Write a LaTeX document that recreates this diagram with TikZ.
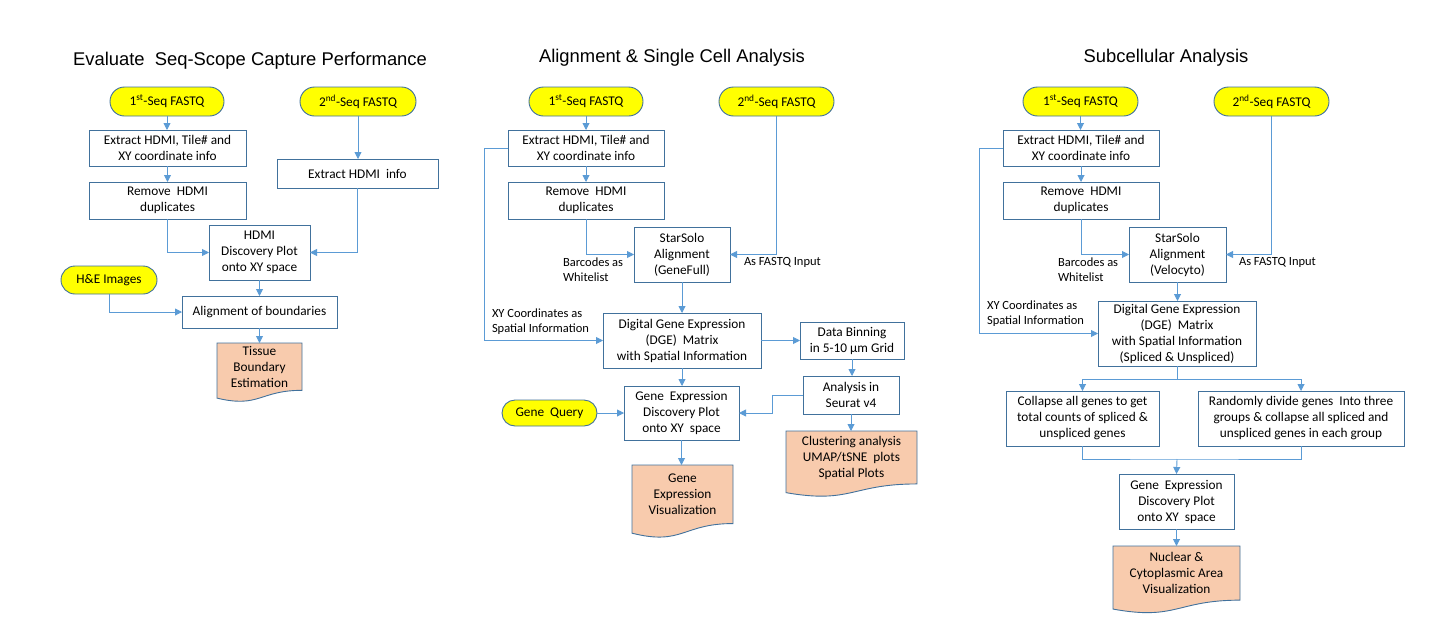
\documentclass[tikz,border=0pt]{standalone}
\usepackage{fontspec}
\setmainfont{Carlito}
\newfontfamily\titlefont{Liberation Sans}
\usetikzlibrary{arrows.meta,shapes.misc,calc}
\definecolor{boxc}{HTML}{41719C}
\definecolor{linec}{HTML}{5B9BD5}
\definecolor{docfill}{HTML}{F8CBAD}
\definecolor{pillfill}{HTML}{FFFF00}
\newcommand{\docnode}[6]{%
  \draw[docline] ({#2-#4/2},#3) -- ({#2+#4/2},#3) -- ({#2+#4/2},{#3+0.802*#5})
    .. controls (#2,{#3+0.802*#5}) and (#2,{#3+1.1075*#5}) .. ({#2-#4/2},{#3+0.934*#5}) -- cycle;
  \node[body, minimum width=#4, minimum height={0.802*#5}, anchor=north] (#1) at (#2,#3) {#6};
}
\begin{document}
\begin{tikzpicture}[x=1pt,y=-1pt,
  every node/.style={inner sep=0pt, outer sep=0pt},
  body/.style={font=\fontsize{13.3}{16}\selectfont, align=center},
  box/.style={body, draw=boxc, fill=white, line width=0.9pt, rectangle},
  pill/.style={body, draw=boxc, fill=pillfill, line width=0.9pt, rounded rectangle},
  lbl/.style={font=\fontsize{12.5}{15}\selectfont, align=left, anchor=west},
  ttl/.style={font=\titlefont\fontsize{18.4}{22}\selectfont, anchor=base},
  conn/.style={draw=linec, line width=0.9pt},
  arr/.style={conn, -{Triangle[length=7pt,width=7pt]}},
  docline/.style={draw=boxc, fill=docfill, line width=0.9pt},
]
\useasboundingbox (0,0) rectangle (1439,627);

% ---------- titles ----------
\node[ttl] (t1) at (250,65) {Evaluate\ \ Seq-Scope Capture Performance};
\node[ttl] (t2) at (672,62) {Alignment \& Single Cell Analysis};
\node[ttl] (t3) at (1166,62) {Subcellular Analysis};

% ---------- column 1 ----------
\node[pill, minimum width=114, minimum height=29] (fqa1) at (167,101.5) {1\textsuperscript{st}-Seq FASTQ};
\node[pill, minimum width=116, minimum height=29] (fqb1) at (358,101.5) {2\textsuperscript{nd}-Seq FASTQ};
\node[box, minimum width=157, minimum height=36] (ext1) at (167.5,148) {Extract HDMI, Tile\# and\\XY coordinate info};
\node[box, minimum width=157, minimum height=37] (rem1) at (167.5,200.5) {Remove\ \ HDMI\\duplicates};
\node[box, minimum width=161, minimum height=29] (exh1) at (357.5,173.5) {Extract HDMI\ \ info};
\node[box, minimum width=101, minimum height=55] (hdp1) at (259.5,252.5) {HDMI\\Discovery Plot\\onto XY space};
\node[pill, minimum width=96, minimum height=28] (he1) at (109,280) {H\&E Images};
\node[box, minimum width=155, minimum height=32] (aln1) at (259.5,312) {Alignment of boundaries};
\docnode{tbe1}{259.5}{343}{85}{59}{Tissue\\Boundary\\Estimation}

\draw[arr] (fqa1.south) -- (fqa1.south |- ext1.north);
\draw[arr] (ext1.south) -- (rem1.north);
\draw[arr] (rem1.south) |- (hdp1.west);
\draw[arr] (fqb1.south) -- (fqb1.south |- exh1.north);
\draw[arr] (exh1.south) |- (hdp1.east);
\draw[arr] (hdp1.south) -- (aln1.north);
\draw[arr] (he1.south) |- (aln1.west);
\draw[arr] (aln1.south) -- (tbe1.north);

% ---------- column 2 ----------
\node[pill, minimum width=114, minimum height=29] (fqa2) at (586,101.5) {1\textsuperscript{st}-Seq FASTQ};
\node[pill, minimum width=115, minimum height=29] (fqb2) at (776.5,101.5) {2\textsuperscript{nd}-Seq FASTQ};
\node[box, minimum width=156, minimum height=36] (ext2) at (586,148) {Extract HDMI, Tile\# and\\XY coordinate info};
\node[box, minimum width=156, minimum height=37] (rem2) at (586,200.5) {Remove\ \ HDMI\\duplicates};
\node[box, minimum width=96, minimum height=55] (star2) at (682,254.5) {StarSolo\\Alignment\\(GeneFull)};
\node[lbl] (bw2) at (563,269.5) {Barcodes as\\Whitelist};
\node[lbl] (fi2) at (744,262) {As FASTQ Input};
\node[lbl] (xy2) at (492,321.5) {XY Coordinates as\\Spatial Information};
\node[box, minimum width=158, minimum height=55] (dge2) at (682,340.5) {Digital Gene Expression\\(DGE)\ \ Matrix\\with Spatial Information};
\node[box, minimum width=104, minimum height=37] (bin2) at (852,340.5) {Data Binning\\in 5-10 µm Grid};
\node[box, minimum width=96, minimum height=38] (ana2) at (851,395) {Analysis in\\Seurat v4};
\node[box, minimum width=115, minimum height=54] (ge2) at (681.5,413) {Gene\ \ Expression\\Discovery Plot\\onto XY\ \ space};
\node[pill, minimum width=95, minimum height=26] (gq2) at (549.5,413) {Gene\ \ Query};
\docnode{gev2}{682.5}{465}{101}{73}{Gene\\Expression\\Visualization}
\docnode{clu2}{851.5}{431}{131}{66}{Clustering analysis\\UMAP/tSNE\ \ plots\\Spatial Plots}

\draw[arr] (fqa2.south) -- (ext2.north);
\draw[arr] (ext2.south) -- (rem2.north);
\draw[arr] (rem2.south) |- (star2.west);
\draw[arr] (fqb2.south) |- (star2.east);
\draw[arr] (ext2.west) -- ++(-24,0) |- (dge2.west);
\draw[arr] (star2.south) -- (dge2.north);
\draw[arr] (dge2.east) -- (bin2.west);
\draw[arr] (bin2.south) -- (bin2.south |- ana2.north);
\draw[arr] (ana2.west) -- ++(-31,0) |- (ge2.east);
\draw[arr] (gq2.east) -- (ge2.west);
\draw[arr] (dge2.south) -- (dge2.south |- ge2.north);
\draw[arr] (ge2.south) -- (ge2.south |- gev2.north);
\draw[arr] (ana2.south) -- (ana2.south |- clu2.north);

% ---------- column 3 ----------
\node[pill, minimum width=115, minimum height=29] (fqa3) at (1080.5,101.5) {1\textsuperscript{st}-Seq FASTQ};
\node[pill, minimum width=115, minimum height=29] (fqb3) at (1271.5,101.5) {2\textsuperscript{nd}-Seq FASTQ};
\node[box, minimum width=156, minimum height=36] (ext3) at (1081,148) {Extract HDMI, Tile\# and\\XY coordinate info};
\node[box, minimum width=156, minimum height=37] (rem3) at (1081,200.5) {Remove\ \ HDMI\\duplicates};
\node[box, minimum width=97, minimum height=55] (star3) at (1177.5,254.5) {StarSolo\\Alignment\\(Velocyto)};
\node[lbl] (bw3) at (1058,269.5) {Barcodes as\\Whitelist};
\node[lbl] (fi3) at (1239,262) {As FASTQ Input};
\node[lbl] (xy3) at (987,313.5) {XY Coordinates as\\Spatial Information};
\node[box, minimum width=158, minimum height=65] (dge3) at (1177,333.5) {Digital Gene Expression\\(DGE)\ \ Matrix\\with Spatial Information\\(Spliced \& Unspliced)};
\node[box, minimum width=153, minimum height=55] (col3) at (1082.5,418.5) {Collapse all genes to get\\total counts of spliced \&\\unspliced genes};
\node[box, minimum width=206, minimum height=55] (rnd3) at (1301,418.5) {Randomly divide genes\ \ Into three\\groups \& collapse all spliced and\\unspliced genes in each group};
\node[box, minimum width=115, minimum height=55] (ge3) at (1176.5,501.5) {Gene\ \ Expression\\Discovery Plot\\onto XY\ \ space};
\docnode{nuc3}{1176.5}{546}{127}{67.5}{Nuclear \&\\Cytoplasmic Area\\Visualization}
\coordinate (s3) at (1177,379);
\coordinate (m3) at (1177,459);

\draw[arr] (fqa3.south) -- (fqa3.south |- ext3.north);
\draw[arr] (ext3.south) -- (rem3.north);
\draw[arr] (rem3.south) |- (star3.west);
\draw[arr] (fqb3.south) |- (star3.east);
\draw[arr] (ext3.west) -- ++(-24,0) |- (dge3.west);
\draw[arr] (star3.south) -- (star3.south |- dge3.north);
\draw[conn] (dge3.south) -- (s3);
\draw[arr] (s3) -| (col3.north);
\draw[arr] (s3) -| (rnd3.north);
\draw[conn] (col3.south) |- (m3) -| (rnd3.south);
\draw[arr] (m3) -- (ge3.north);
\draw[arr] (ge3.south) -- (ge3.south |- nuc3.north);
\end{tikzpicture}
\end{document}
